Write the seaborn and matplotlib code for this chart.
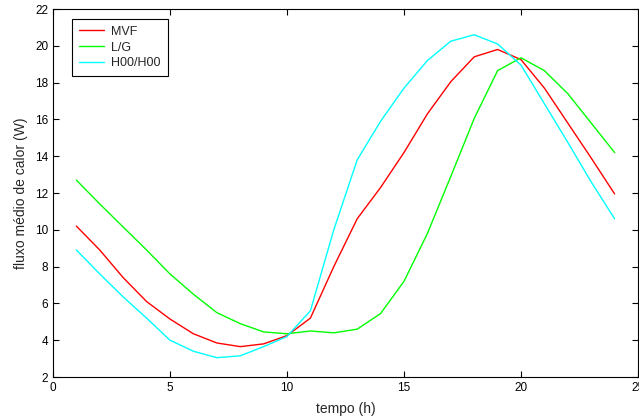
import numpy as np
import pandas as pd
import seaborn as sns
import matplotlib.pyplot as plt

# hourly values
hours = list(range(1, 25))
mvf = [10.2, 8.9, 7.4, 6.1, 5.15, 4.35, 3.85, 3.65, 3.8, 4.25, 5.2, 8.0,
       10.6, 12.3, 14.2, 16.3, 18.05, 19.4, 19.8, 19.25, 17.7, 15.8, 13.9, 11.95]
lg = [12.7, 11.4, 10.15, 8.9, 7.6, 6.5, 5.5, 4.9, 4.45, 4.35, 4.5, 4.4,
      4.6, 5.45, 7.2, 9.8, 12.9, 16.05, 18.65, 19.35, 18.65, 17.4, 15.8, 14.2]
h00 = [8.9, 7.6, 6.35, 5.2, 4.0, 3.4, 3.05, 3.15, 3.65, 4.2, 5.6, 10.0,
       13.8, 15.9, 17.7, 19.2, 20.25, 20.6, 20.1, 18.95, 16.85, 14.75, 12.6, 10.6]
series = ["MVF", "L/G", "H00/H00"]
colors = ["#ff0000", "#00ff00", "#00ffff"]

df = pd.DataFrame({
    "tempo": hours * 3,
    "fluxo": mvf + lg + h00,
    "serie": [s for s in series for _ in hours],
})

sns.set_style("ticks")
plt.rcParams["font.family"] = ["Liberation Sans", "DejaVu Sans"]

fig = plt.figure(figsize=(6.39, 4.19), dpi=100)
ax = fig.add_axes([53 / 639, 1 - 377 / 419, 585 / 639, 368 / 419])

sns.lineplot(data=df, x="tempo", y="fluxo", hue="serie", hue_order=series,
             palette=colors, linewidth=1.0, ax=ax)

ax.set_xlim(0, 25)
ax.set_ylim(2, 22)
ax.set_xticks([0, 5, 10, 15, 20, 25])
ax.set_yticks(range(2, 23, 2))
ax.tick_params(direction="in", length=4, width=0.8, labelsize=8.5,
               top=True, right=True, colors="black")
for s in ax.spines.values():
    s.set_visible(True)
    s.set_linewidth(0.8)
    s.set_color("black")
ax.set_xlabel("tempo (h)", fontsize=10, labelpad=6)
ax.set_ylabel("fluxo médio de calor (W)", fontsize=10, labelpad=5)

leg = ax.legend(loc="upper left", bbox_to_anchor=(72 / 639, 1 - 19 / 419),
                bbox_transform=fig.transFigure, fontsize=9, fancybox=False,
                framealpha=1, edgecolor="black", borderaxespad=0,
                handlelength=2.0, handletextpad=0.6, labelspacing=0.3,
                borderpad=0.55)
leg.get_frame().set_linewidth(0.8)

fig.savefig("out.png", dpi=100)
